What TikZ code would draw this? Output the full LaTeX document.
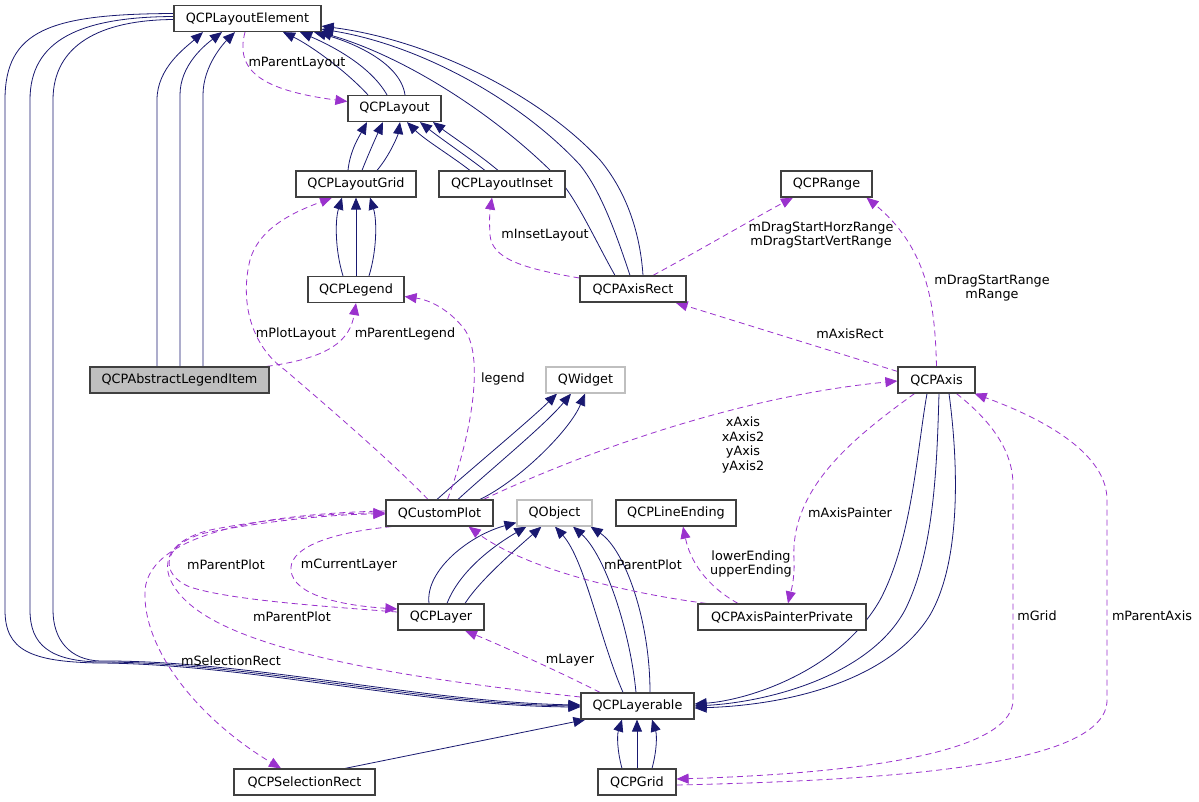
\documentclass[tikz,border=0pt]{standalone}
\usepackage{fontspec}
\setmainfont{DejaVu Sans}
\usepackage{tikz}
\usetikzlibrary{arrows.meta,backgrounds}
\definecolor{inhblue}{RGB}{25,25,112}
\definecolor{useorchid}{RGB}{154,50,205}
\definecolor{boxgray}{RGB}{64,64,64}
\definecolor{extgray}{RGB}{191,191,191}

\begin{document}
\begin{tikzpicture}[x=1pt,y=-1pt,
  cls/.style={draw=boxgray,line width=1.2pt,fill=white,minimum height=26pt,inner sep=0pt,font=\fontsize{12.8}{15}\selectfont},
  extcls/.style={cls,draw=extgray},
  selcls/.style={cls,fill=extgray},
  lbl/.style={inner sep=0pt,align=center,font=\fontsize{12.8}{14.5}\selectfont},
  inh/.style={draw=inhblue,line width=0.8pt,-{Triangle[length=12pt,width=10pt]}},
  use/.style={draw=useorchid,line width=0.8pt,dash pattern=on 6pt off 4pt,-{Triangle[length=12pt,width=10pt]}}]
\useasboundingbox (0,0) rectangle (1199,801);

\node[cls,minimum width=147pt] (layoutElement) at (247.5,18.5) {QCPLayoutElement};
\node[cls,minimum width=93pt] (layout) at (394.5,108.5) {QCPLayout};
\node[cls,minimum width=120pt] (layoutGrid) at (356,184) {QCPLayoutGrid};
\node[cls,minimum width=126pt] (layoutInset) at (502,184) {QCPLayoutInset};
\node[cls,minimum width=91pt] (range) at (826.5,184) {QCPRange};
\node[cls,minimum width=96pt] (legend) at (356,289.5) {QCPLegend};
\node[cls,minimum width=106pt] (axisRect) at (633,289) {QCPAxisRect};
\node[selcls,minimum width=179pt] (legendItem) at (179.5,380) {QCPAbstractLegendItem};
\node[extcls,minimum width=79pt] (qwidget) at (585.5,380) {QWidget};
\node[cls,minimum width=77pt] (axis) at (936.5,380) {QCPAxis};
\node[cls,minimum width=107pt] (customPlot) at (439.5,513) {QCustomPlot};
\node[extcls,minimum width=75pt] (qobject) at (554.5,513) {QObject};
\node[cls,minimum width=120pt] (lineEnding) at (676,513) {QCPLineEnding};
\node[cls,minimum width=86pt] (layer) at (441,617) {QCPLayer};
\node[cls,minimum width=168pt] (axisPainter) at (782,617) {QCPAxisPainterPrivate};
\node[cls,minimum width=113pt] (layerable) at (637.5,706) {QCPLayerable};
\node[cls,minimum width=141pt] (selectionRect) at (304.5,782) {QCPSelectionRect};
\node[cls,minimum width=78pt] (grid) at (637,782) {QCPGrid};

\node[lbl] (lbParentLayout) at (297,63) {mParentLayout};
\node[lbl] (lbInsetLayout) at (545,235) {mInsetLayout};
\node[lbl] (lbDragRanges) at (821,235) {mDragStartHorzRange\\mDragStartVertRange};
\node[lbl] (lbRange) at (992,288) {mDragStartRange\\mRange};
\node[lbl] (lbAxisRect) at (850,334) {mAxisRect};
\node[lbl] (lbPlotLayout) at (296,334) {mPlotLayout};
\node[lbl] (lbParentLegend) at (405,334) {mParentLegend};
\node[lbl] (lbLegend) at (503,379) {legend};
\node[lbl] (lbAxes) at (743,445) {xAxis\\xAxis2\\yAxis\\yAxis2};
\node[lbl] (lbAxisPainter) at (850,513) {mAxisPainter};
\node[lbl] (lbEndings) at (751,564) {lowerEnding\\upperEnding};
\node[lbl] (lbParentPlotA) at (643,565) {mParentPlot};
\node[lbl] (lbParentPlotB) at (226,565) {mParentPlot};
\node[lbl] (lbCurrentLayer) at (349,565) {mCurrentLayer};
\node[lbl] (lbParentPlotC) at (292,617) {mParentPlot};
\node[lbl] (lbGrid) at (1037,616) {mGrid};
\node[lbl] (lbParentAxis) at (1152,616) {mParentAxis};
\node[lbl] (lbSelectionRect) at (231,661) {mSelectionRect};
\node[lbl] (lbLayer) at (570,660) {mLayer};

\begin{scope}[on background layer]
\fill[white] (0,0) rectangle (1199,801);
\draw[inh] ([xshift=-22.5pt]legendItem.north) -- (157,100) .. controls (157,68) and (185,48) .. ([xshift=-44.5pt]layoutElement.south);
\draw[inh] ([xshift=0.5pt]legendItem.north) -- (180,95) .. controls (180,65) and (205,45) .. ([xshift=-25.5pt]layoutElement.south);
\draw[inh] ([xshift=23.5pt]legendItem.north) -- (203,95) .. controls (203,65) and (225,42) .. ([xshift=-12.5pt]layoutElement.south);
\draw[inh] ([xshift=-26.5pt]layout.north) .. controls (345,70) and (310,45) .. ([xshift=35.5pt]layoutElement.south);
\draw[inh] ([xshift=-7.5pt]layout.north) .. controls (370,65) and (330,45) .. ([xshift=52.5pt]layoutElement.south);
\draw[inh] ([xshift=10.5pt]layout.north) .. controls (400,60) and (345,40) .. ([xshift=66.5pt]layoutElement.south);
\draw[inh] ([xshift=-8pt]layoutGrid.north) .. controls (350,150) and (360,135) .. ([xshift=-27.5pt]layout.south);
\draw[inh] ([xshift=6pt]layoutGrid.north) .. controls (368,155) and (377,135) .. ([xshift=-11.5pt]layout.south);
\draw[inh] ([xshift=21pt]layoutGrid.north) .. controls (390,155) and (398,135) .. ([xshift=5.5pt]layout.south);
\draw[inh] ([xshift=-32pt]layoutInset.north) .. controls (450,155) and (425,140) .. ([xshift=12.5pt]layout.south);
\draw[inh] ([xshift=-17pt]layoutInset.north) .. controls (465,155) and (440,138) .. ([xshift=25.5pt]layout.south);
\draw[inh] ([xshift=-4pt]layoutInset.north) .. controls (480,155) and (450,135) .. ([xshift=38.5pt]layout.south);
\draw[inh] ([xshift=-18pt]axisRect.north) .. controls (595,240) and (575,195) .. (555,175) .. controls (490,110) and (400,55) .. ([xshift=-2pt]layoutElement.south east);
\draw[inh] ([xshift=-3pt]axisRect.north) .. controls (615,230) and (600,190) .. (580,165) .. controls (520,100) and (420,45) .. ([yshift=3pt]layoutElement.south east);
\draw[inh] ([xshift=10pt]axisRect.north) .. controls (640,230) and (625,190) .. (600,160) .. controls (540,95) and (430,40) .. ([yshift=6pt]layoutElement.south east);
\draw[inh] ([xshift=-13pt]legend.north) .. controls (335,250) and (335,220) .. ([xshift=-14pt]layoutGrid.south);
\draw[inh] (legend.north) -- (layoutGrid.south);
\draw[inh] ([xshift=13pt]legend.north) .. controls (377,250) and (377,220) .. ([xshift=14pt]layoutGrid.south);
\draw[inh] ([xshift=-2.5pt]customPlot.north) .. controls (470,470) and (530,420) .. ([xshift=-28.5pt]qwidget.south);
\draw[inh] ([xshift=18.5pt]customPlot.north) .. controls (490,470) and (545,425) .. ([xshift=-14.5pt]qwidget.south);
\draw[inh] ([xshift=40.5pt]customPlot.north) .. controls (520,480) and (570,430) .. ([xshift=-0.5pt]qwidget.south);
\draw[inh] ([xshift=-12pt]layer.north) .. controls (425,570) and (470,535) .. ([yshift=4pt]qobject.south west);
\draw[inh] ([xshift=6pt]layer.north) .. controls (460,570) and (495,545) .. ([xshift=10pt]qobject.south west);
\draw[inh] ([xshift=24pt]layer.north) .. controls (480,580) and (515,550) .. ([xshift=25pt]qobject.south west);
\draw[inh] ([xshift=-14.5pt]layerable.north) .. controls (600,640) and (585,560) .. ([xshift=0.5pt]qobject.south);
\draw[inh] ([xshift=-1.5pt]layerable.north) .. controls (630,630) and (605,555) .. ([xshift=18.5pt]qobject.south);
\draw[inh] ([xshift=12.5pt]layerable.north) .. controls (650,620) and (625,550) .. ([xshift=-2pt]qobject.south east);
\draw[inh] ([yshift=5pt]layoutElement.west) .. controls (50,14) and (5,30) .. (5,100) -- (5,610) .. controls (5,650) and (30,662) .. (100,663) .. controls (250,664) and (420,706) .. ([yshift=-1pt]layerable.west);
\draw[inh] ([yshift=2pt]layoutElement.west) .. controls (80,17) and (30,40) .. (30,100) -- (30,610) .. controls (30,645) and (50,661) .. (100,662) .. controls (250,662) and (420,704) .. (layerable.west);
\draw[inh] ([yshift=-1pt]layoutElement.west) .. controls (100,20) and (53,45) .. (53,100) -- (53,610) .. controls (53,640) and (70,660) .. (100,661) .. controls (250,660) and (420,702) .. ([yshift=1pt]layerable.west);
\draw[inh] ([xshift=-9.5pt]axis.south) .. controls (917,450) and (912,540) .. (880,600) .. controls (840,670) and (750,700) .. ([yshift=2pt]layerable.east);
\draw[inh] ([xshift=2.5pt]axis.south) .. controls (937,460) and (935,550) .. (905,610) .. controls (870,675) and (770,702) .. (layerable.east);
\draw[inh] ([xshift=12.5pt]axis.south) .. controls (958,460) and (962,560) .. (930,615) .. controls (890,680) and (790,705) .. ([yshift=-2pt]layerable.east);
\draw[inh] ([xshift=40.5pt]selectionRect.north) -- ([xshift=5pt]layerable.south west);
\draw[inh] ([xshift=-15pt]grid.north) .. controls (617,750) and (617,735) .. ([xshift=-15.5pt]layerable.south);
\draw[inh] (grid.north) -- ([xshift=-0.5pt]layerable.south);
\draw[inh] ([xshift=15pt]grid.north) .. controls (657,750) and (657,735) .. ([xshift=14.5pt]layerable.south);

\draw[use] ([xshift=-2.5pt]layoutElement.south) .. controls (235,70) and (260,90) .. ([yshift=7pt]layout.west);
\draw[use] ([yshift=11pt]axisRect.west) .. controls (520,268) and (492,258) .. (490,235) .. controls (489,220) and (490,210) .. ([xshift=-10pt]layoutInset.south);
\draw[use] ([xshift=20pt]axisRect.north) .. controls (700,250) and (760,215) .. ([xshift=-33.5pt]range.south);
\draw[use] (axis.north) .. controls (935,310) and (930,250) .. ([xshift=40pt]range.south);
\draw[use] ([yshift=-5pt]axis.north west) -- ([xshift=-11pt]axisRect.south east);
\draw[use] ([xshift=-3pt]legendItem.north east) .. controls (330,358) and (350,340) .. (legend.south);
\draw[use] ([xshift=-11.5pt]customPlot.north) .. controls (390,460) and (320,400) .. (285,370) .. controls (250,345) and (240,300) .. (250,260) .. controls (260,225) and (300,210) .. ([xshift=-24pt]layoutGrid.south);
\draw[use] ([xshift=8pt]customPlot.north) .. controls (470,440) and (485,360) .. (465,330) .. controls (450,310) and (430,300) .. ([yshift=-7pt]legend.east);
\draw[use] ([xshift=44pt]customPlot.north) .. controls (600,445) and (750,395) .. ([yshift=-1pt]axis.west);
\draw[use] ([yshift=9pt]layerable.west) .. controls (450,683) and (270,660) .. (200,612) .. controls (160,585) and (150,545) .. (210,530) .. controls (270,518) and (340,513) .. (customPlot.west);
\draw[use] ([yshift=5pt]layer.west) .. controls (320,606) and (230,600) .. (190,587) .. controls (160,575) and (160,545) .. (205,533) .. controls (270,520) and (340,514) .. ([yshift=-1pt]customPlot.west);
\draw[use] ([xshift=6pt]customPlot.south west) .. controls (310,535) and (285,555) .. (292,575) .. controls (300,598) and (350,606) .. ([yshift=8pt]layer.west);
\draw[use] ([yshift=2pt]customPlot.west) .. controls (280,513) and (150,530) .. (145,590) .. controls (142,650) and (200,720) .. ([xshift=-23.5pt]selectionRect.north);
\draw[use] ([xshift=9pt]axisPainter.north west) .. controls (640,595) and (530,572) .. ([xshift=-25pt]customPlot.south east);
\draw[use] ([xshift=-44pt]axisPainter.north) .. controls (705,585) and (690,560) .. ([xshift=7pt]lineEnding.south);
\draw[use] ([xshift=-22pt]axis.south) .. controls (850,440) and (790,490) .. (794,560) .. controls (795,580) and (790,595) .. ([xshift=6pt]axisPainter.north);
\draw[use] ([xshift=20pt]axis.south) .. controls (990,420) and (1013,450) .. (1013,485) -- (1013,700) .. controls (1013,745) and (900,772) .. ([yshift=3pt]grid.east);
\draw[use] ([yshift=-3pt]grid.east) .. controls (900,780) and (1107,765) .. (1107,700) -- (1107,500) .. controls (1107,460) and (1060,425) .. ([xshift=-1pt]axis.south east);
\draw[use] ([xshift=-37.5pt]layerable.north) .. controls (560,672) and (500,645) .. ([xshift=24pt]layer.south);
\end{scope}
\end{tikzpicture}
\end{document}
